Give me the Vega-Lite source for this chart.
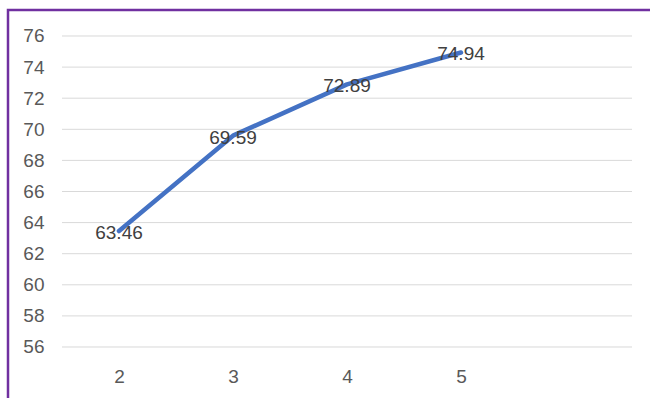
{
  "$schema": "https://vega.github.io/schema/vega-lite/v6.json",
  "autosize": {"type": "none"},
  "padding": {"left": 8, "top": 10, "right": 0, "bottom": 0},
  "width": 650,
  "height": 392,
  "background": "white",
  "config": {
    "view": {"stroke": "#7030A0", "strokeWidth": 2.5},
    "font": "Liberation Sans",
    "axis": {
      "labelOverlap": false, "title": null, "grid": false, "ticks": false, "domain": false,
      "labelPadding": 0, "labelFontSize": 19, "labelColor": "#595959", "labelFont": "Liberation Sans",
      "labelBaseline": "middle", "labelFlush": false
    }
  },
  "datasets": {
    "series": [
      {"x": 2, "value": 63.46},
      {"x": 3, "value": 69.59},
      {"x": 4, "value": 72.89},
      {"x": 5, "value": 74.94}
    ],
    "grid": [
      {"g": 56}, {"g": 58}, {"g": 60}, {"g": 62}, {"g": 64}, {"g": 66},
      {"g": 68}, {"g": 70}, {"g": 72}, {"g": 74}, {"g": 76}
    ]
  },
  "layer": [
    {
      "data": {"name": "grid"},
      "mark": {"type": "rule", "color": "#D9D9D9", "strokeWidth": 1},
      "encoding": {
        "y": {
          "field": "g", "type": "quantitative",
          "scale": {"domain": [52.463, 77.672], "nice": false, "zero": false},
          "axis": {
            "values": [56, 58, 60, 62, 64, 66, 68, 70, 72, 74, 76],
            "offset": -36, "format": "d", "labelOverlap": false, "tickCount": 11
          }
        },
        "x": {
          "datum": 1.5, "type": "quantitative",
          "scale": {"domain": [1.02632, 6.72807], "nice": false, "zero": false},
          "axis": {
            "values": [2, 3, 4, 5], "format": "d", "offset": -26, "labelOverlap": false
          }
        },
        "x2": {"datum": 6.5}
      }
    },
    {
      "data": {"name": "series"},
      "mark": {"type": "line", "color": "#4472C4", "strokeWidth": 4.5, "strokeCap": "round", "strokeJoin": "round"},
      "encoding": {
        "x": {"field": "x", "type": "quantitative", "axis": {"values": [2, 3, 4, 5], "format": "d", "offset": -26, "labelOverlap": false}},
        "y": {"field": "value", "type": "quantitative", "axis": {"values": [56, 58, 60, 62, 64, 66, 68, 70, 72, 74, 76], "offset": -36, "format": "d", "labelOverlap": false, "tickCount": 11}}
      }
    },
    {
      "data": {"name": "series"},
      "mark": {"type": "text", "align": "center", "baseline": "middle", "dy": 2, "fontSize": 19, "color": "#404040", "font": "Liberation Sans"},
      "encoding": {
        "x": {"field": "x", "type": "quantitative", "axis": {"values": [2, 3, 4, 5], "format": "d", "offset": -26, "labelOverlap": false}},
        "y": {"field": "value", "type": "quantitative", "axis": {"values": [56, 58, 60, 62, 64, 66, 68, 70, 72, 74, 76], "offset": -36, "format": "d", "labelOverlap": false, "tickCount": 11}},
        "text": {"field": "value", "type": "quantitative", "format": ".2f"}
      }
    }
  ]
}
